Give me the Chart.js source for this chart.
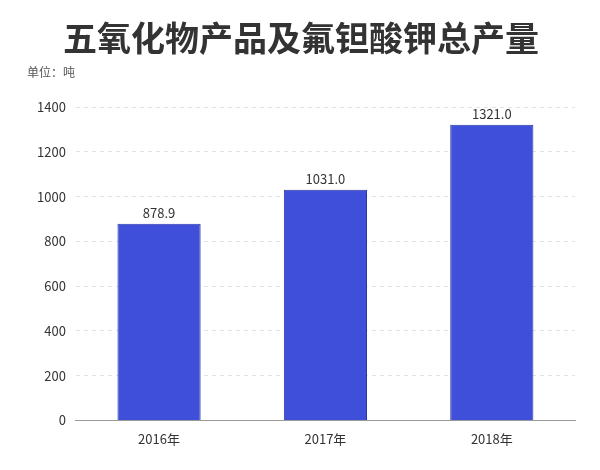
<!DOCTYPE html>
<html>
<head>
<meta charset="utf-8">
<script src="https://cdn.jsdelivr.net/npm/chart.js"></script>
<style>
  body { margin: 0; background: #fff; }
  #wrap { width: 600px; height: 470px; }
</style>
</head>
<body>
<div id="wrap"><canvas id="chart"></canvas></div>
<script>
const years = ['2016年', '2017年', '2018年'];
const output = [878.9, 1031.0, 1321.0];
const yTicks = [0, 200, 400, 600, 800, 1000, 1200, 1400];

const fontFamily = '"Noto Sans CJK SC", "Noto Sans", sans-serif';

// draws the value above each bar
const valueLabels = {
  id: 'valueLabels',
  afterDatasetsDraw(chart) {
    const ctx = chart.ctx;
    ctx.save();
    ctx.font = '13px ' + fontFamily;
    ctx.fillStyle = '#333';
    ctx.textAlign = 'center';
    ctx.textBaseline = 'bottom';
    chart.getDatasetMeta(0).data.forEach((bar, i) => {
      ctx.fillText(output[i].toFixed(1), bar.x, bar.y - 4);
    });
    ctx.restore();
  }
};

new Chart(document.getElementById('chart').getContext('2d'), {
  type: 'bar',
  data: {
    labels: years,
    datasets: [{
      data: output,
      backgroundColor: '#3f4fd9',
      borderColor: '#2a36a8',
      borderWidth: 1,
      barPercentage: 0.5,
      categoryPercentage: 1
    }]
  },
  options: {
    responsive: true,
    maintainAspectRatio: false,
    animation: false,
    layout: { padding: { left: 27, right: 25, top: 0, bottom: 20 } },
    plugins: {
      legend: { display: false },
      tooltip: { enabled: false },
      title: {
        display: true,
        text: '五氧化物产品及氟钽酸钾总产量',
        color: '#333',
        font: { family: fontFamily, size: 34, weight: 'bold' },
        padding: { top: 18, bottom: 6 }
      },
      subtitle: {
        display: true,
        text: '单位：吨',
        align: 'start',
        color: '#555',
        font: { family: fontFamily, size: 12 },
        padding: { bottom: 28 }
      }
    },
    scales: {
      x: {
        grid: { display: false },
        border: { color: '#999' },
        ticks: { color: '#333', font: { family: fontFamily, size: 13 } }
      },
      y: {
        min: 0,
        max: 1400,
        afterBuildTicks: axis => { axis.ticks = yTicks.map(v => ({ value: v })); },
        grid: { color: '#e3e3e3', tickLength: 0 },
        border: { display: false, dash: [4, 4] },
        ticks: { color: '#333', padding: 10, callback: v => String(v), font: { family: fontFamily, size: 13 } }
      }
    }
  },
  plugins: [valueLabels]
});
</script>
</body>
</html>
